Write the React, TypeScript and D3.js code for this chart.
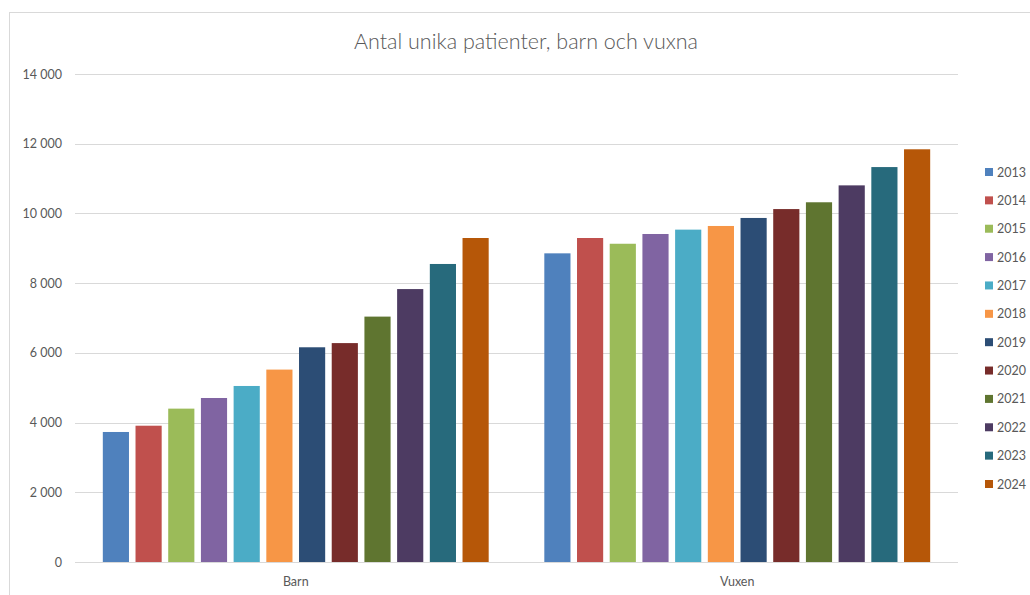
import React, { useEffect, useRef } from 'react';
import * as d3 from 'd3';

const categories = ['Barn', 'Vuxen'];
const years = ['2013', '2014', '2015', '2016', '2017', '2018', '2019', '2020', '2021', '2022', '2023', '2024'];
const barnValues = [3730, 3910, 4400, 4705, 5050, 5520, 6160, 6280, 7040, 7830, 8550, 9295];
const vuxenValues = [8855, 9295, 9130, 9410, 9535, 9640, 9870, 10125, 10320, 10805, 11330, 11840];
const yTicks = [0, 2000, 4000, 6000, 8000, 10000, 12000, 14000];
const colors = [
  '#4F81BD', '#C0504D', '#9BBB59', '#8064A2', '#4BACC6', '#F79646',
  '#2C4D75', '#772C2A', '#5F7530', '#4D3B62', '#276A7C', '#B65708',
];

const W = 1030;
const H = 595;
const FONT = 'Lato, "Open Sans", sans-serif';

export default function App() {
  const svgRef = useRef<SVGSVGElement>(null);

  useEffect(() => {
    if (!svgRef.current) return;
    const svg = d3.select(svgRef.current);
    svg.selectAll('*').remove();

    const plot = { left: 75, right: 958, top: 74, bottom: 562 };
    const seriesByCat = [barnValues, vuxenValues];

    // chart frame
    svg.append('rect')
      .attr('x', 9.5).attr('y', 12.5)
      .attr('width', W + 10).attr('height', H)
      .attr('fill', '#fff').attr('stroke', '#d9d9d9');

    svg.append('text')
      .attr('x', 526).attr('y', 49)
      .attr('text-anchor', 'middle')
      .attr('font-family', FONT).attr('font-size', 21.5)
      .attr('font-weight', 300)
      .attr('fill', '#595959')
      .text('Antal unika patienter, barn och vuxna');

    const y = d3.scaleLinear().domain([0, 14000]).range([plot.bottom, plot.top]);
    const x0 = d3.scaleBand().domain(categories).range([plot.left, plot.right]);
    const bw = x0.bandwidth();
    const x1 = d3.scaleBand().domain(years).range([bw * 0.063, bw * 0.937]).paddingInner(0.2);

    const fmt = (v: number) => d3.format(',')(v).replace(',', '\u00A0');

    const grid = svg.append('g');
    grid.selectAll('line').data(yTicks).join('line')
      .attr('x1', plot.left).attr('x2', plot.right)
      .attr('y1', d => Math.round(y(d)) + 0.5).attr('y2', d => Math.round(y(d)) + 0.5)
      .attr('stroke', '#d9d9d9').attr('stroke-width', 1);

    svg.append('g').selectAll('text').data(yTicks).join('text')
      .attr('x', 62).attr('y', d => y(d) + 4.5)
      .attr('text-anchor', 'end')
      .attr('font-family', FONT).attr('font-size', 12.5)
      .attr('fill', '#595959')
      .text(d => fmt(d));

    const groups = svg.append('g').selectAll('g').data(categories).join('g')
      .attr('transform', d => `translate(${x0(d)},0)`);

    groups.selectAll('rect')
      .data((c, ci) => years.map((yr, i) => ({ yr, i, v: seriesByCat[ci][i] })))
      .join('rect')
      .attr('x', d => x1(d.yr)!)
      .attr('y', d => y(d.v))
      .attr('width', x1.bandwidth())
      .attr('height', d => y(0) - y(d.v))
      .attr('fill', d => colors[d.i]);

    // baseline over bars
    svg.append('line')
      .attr('x1', plot.left).attr('x2', plot.right)
      .attr('y1', plot.bottom + 0.5).attr('y2', plot.bottom + 0.5)
      .attr('stroke', '#d9d9d9');

    svg.append('g').selectAll('text').data(categories).join('text')
      .attr('x', d => x0(d)! + bw / 2).attr('y', 586)
      .attr('text-anchor', 'middle')
      .attr('font-family', FONT).attr('font-size', 12.5)
      .attr('fill', '#595959')
      .text(d => d);

    const legendY = d3.scalePoint().domain(years).range([172, 484]);
    const legend = svg.append('g').selectAll('g').data(years).join('g')
      .attr('transform', d => `translate(985,${legendY(d)})`);
    legend.append('rect')
      .attr('x', 0).attr('y', -4).attr('width', 8).attr('height', 8)
      .attr('fill', (_, i) => colors[i]);
    legend.append('text')
      .attr('x', 12).attr('y', 4.5)
      .attr('font-family', FONT).attr('font-size', 12.5)
      .attr('fill', '#595959')
      .text(d => d);
  }, []);

  return (
    <svg
      ref={svgRef}
      width={W}
      height={H}
      style={{ position: 'absolute', left: 0, top: 0, background: '#fff' }}
    />
  );
}
